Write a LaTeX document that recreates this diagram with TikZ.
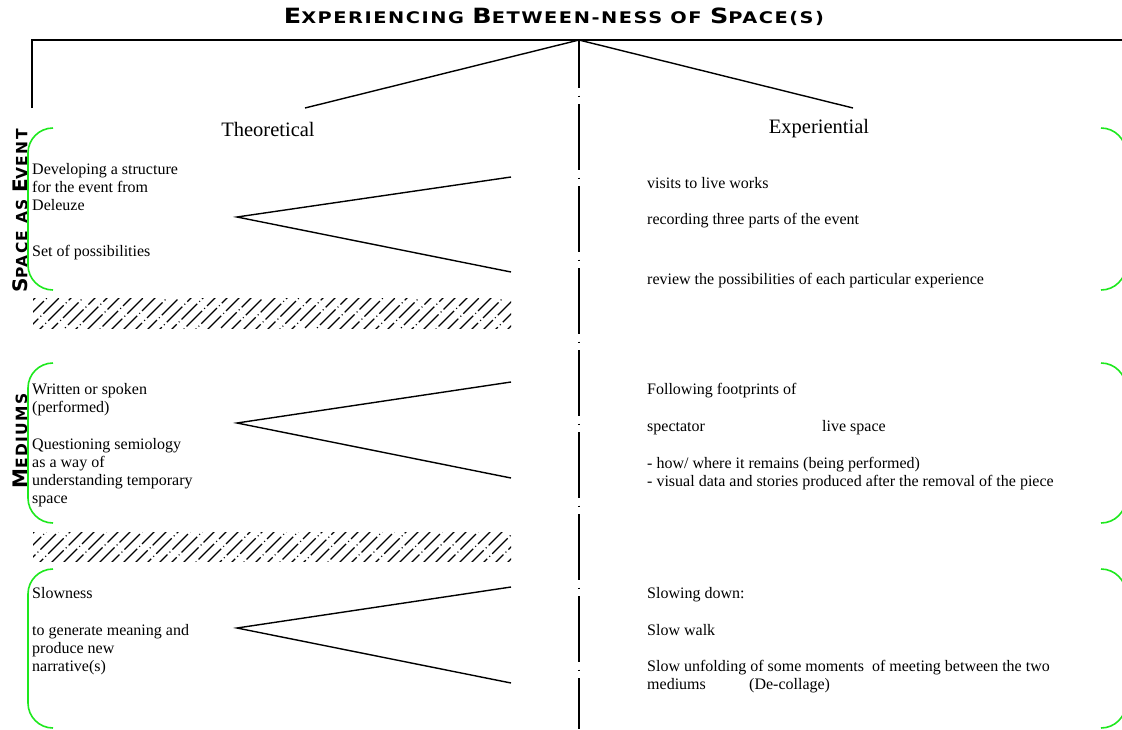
\documentclass[tikz,border=0pt]{standalone}
\usepackage{fontspec}
\setmainfont{Liberation Serif}
\newfontfamily\titlefont{DejaVu Sans}[LetterSpace=8]
\newfontfamily\labelfont{DejaVu Sans}[LetterSpace=8]
\definecolor{brgreen}{RGB}{30,232,30}
\newcommand\Bg[1]{{\fontsize{21}{21}\selectfont #1}}
\newcommand\Bl[1]{{\fontsize{20}{20}\selectfont #1}}
\begin{document}
\begin{tikzpicture}[x=1pt,y=-1pt,
  conn/.style={line width=1.4pt, black},
  brk/.style={brgreen, line width=1.6pt, rounded corners=25pt},
  body/.style={font=\fontsize{16}{18}\selectfont, inner sep=0pt, anchor=base west, align=left},
  head/.style={font=\fontsize{20.5}{22}\selectfont, inner sep=0pt},
  ttl/.style={font=\titlefont\bfseries\fontsize{16}{16}\selectfont, inner sep=0pt},
  lbl/.style={font=\labelfont\bfseries\fontsize{15.5}{16}\selectfont, inner sep=0pt, rotate=90},
  hatchline/.style={line width=1.2pt, dash pattern=on 22pt off 3pt on 1pt off 3pt},
]
\useasboundingbox (0,0) rectangle (1122,729);
\clip (0,0) rectangle (1122,729);

% title
\node[ttl] (title) at (554,17) {\scalebox{1.21}[1]{\Bg{E}XPERIENCING \Bg{B}ETWEEN-NESS OF \Bg{S}PACE(S)}};

% top structure
\coordinate (apex) at (579,40);
\coordinate (lefttop) at (32,40);
\coordinate (leftend) at (32,108);
\coordinate (rightend) at (1122,40);
\coordinate (theoend) at (305,108);
\coordinate (expend) at (853,108);
\coordinate (bottom) at (579,729);
\draw[conn] (leftend) -- (lefttop) -- (rightend);
\draw[conn] (theoend) -- (apex) -- (expend);
\draw[conn, dash pattern=on 66pt off 7.5pt on 1pt off 7.5pt, dash phase=18pt] (apex) -- (bottom);

\node[head] (theo) at (268,129) {Theoretical};
\node[head] (exper) at (819,129) {Experiential};

% vertical labels
\node[lbl] (sae) at (20,211) {\Bl{S}PACE AS \Bl{E}VENT};
\node[lbl] (med) at (20,441) {\Bl{M}EDIUMS};

% green brackets
\draw[brk] (53,128) -- (28,128) -- (28,290) -- (53,290);
\draw[brk] (53,363) -- (28,363) -- (28,523) -- (53,523);
\draw[brk] (53,569) -- (28,569) -- (28,728) -- (53,728);
\draw[brk] (1101,128) -- (1126,128) -- (1126,290) -- (1101,290);
\draw[brk] (1101,363) -- (1126,363) -- (1126,523) -- (1101,523);
\draw[brk] (1101,569) -- (1126,569) -- (1126,728) -- (1101,728);

% angle connectors
\coordinate (a1) at (237,217); \coordinate (a1u) at (511,177); \coordinate (a1d) at (511,272);
\coordinate (a2) at (237,423); \coordinate (a2u) at (511,382); \coordinate (a2d) at (511,478);
\coordinate (a3) at (237,628); \coordinate (a3u) at (511,587); \coordinate (a3d) at (511,683);
\draw[conn] (a1u) -- (a1) -- (a1d);
\draw[conn] (a2u) -- (a2) -- (a2d);
\draw[conn] (a3u) -- (a3) -- (a3d);

% hatched bands
\begin{scope}
\clip (33,298) rectangle (511,328);
\foreach \i [evaluate=\i as \ph using {mod(\i*\i*7+\i*3,28)}] in {0,...,43}
  \draw[hatchline, dash phase=\ph pt] (\i*12+3,330) -- ++(34,-34);
\end{scope}
\begin{scope}
\clip (33,532) rectangle (511,561);
\foreach \i [evaluate=\i as \ph using {mod(\i*\i*5+\i*9,28)}] in {0,...,43}
  \draw[hatchline, dash phase=\ph pt] (\i*12+3,563) -- ++(34,-34);
\end{scope}

% left texts (base = last line)
\node[body] (l1a) at (32,210) {Developing a structure\\for the event from\\Deleuze};
\node[body] (l1b) at (32,256) {Set of possibilities};
\node[body] (l2a) at (32,412) {Written or spoken\\(performed)};
\node[body] (l2b) at (32,503) {Questioning semiology\\as a way of\\understanding temporary\\space};
\node[body] (l3a) at (32,598) {Slowness};
\node[body] (l3b) at (32,671) {to generate meaning and\\produce new\\narrative(s)};

% right texts
\node[body] (r1a) at (647,188) {visits to live works};
\node[body] (r1b) at (647,224) {recording three parts of the event};
\node[body] (r1c) at (647,284) {review the possibilities of each particular experience};
\node[body] (r2a) at (647,394) {Following footprints of};
\node[body] (r2b) at (647,431) {spectator};
\node[body] (r2c) at (822,431) {live space};
\node[body] (r2d) at (647,486) {- how/ where it remains (being performed)\\- visual data and stories produced after the removal of the piece};
\node[body] (r3a) at (647,598) {Slowing down:};
\node[body] (r3b) at (647,635) {Slow walk};
\node[body] (r3c) at (647,671) {Slow unfolding of some moments\ \ of meeting between the two};
\node[body] (r3d) at (647,689) {mediums};
\node[body] (r3e) at (749,689) {(De-collage)};
\end{tikzpicture}
\end{document}
